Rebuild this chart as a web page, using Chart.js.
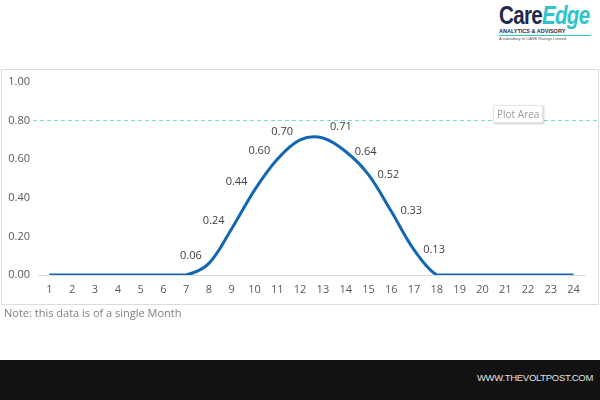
<!DOCTYPE html>
<html>
<head>
<meta charset="utf-8">
<script src="https://cdn.jsdelivr.net/npm/chart.js@4.4.0/dist/chart.umd.min.js"></script>
<style>
  body { margin: 0; width: 600px; height: 400px; background: #fff; position: relative; overflow: hidden; font-family: "Open Sans", sans-serif; }
  .box { position: absolute; left: 1px; top: 69px; width: 596px; height: 234px; border: 1px solid #dcdcdc; }
  canvas { position: absolute; left: 0; top: 0; }
  .note { position: absolute; left: 4px; top: 305px; font-size: 11px; color: #7f7f7f; }
  .footer { position: absolute; left: 0; top: 360px; width: 600px; height: 40px; background: #121212; }
  .footer span { position: absolute; right: 7px; top: 12px; font-family: "Liberation Sans", Arial, sans-serif; font-size: 9.5px; color: #e0e0e0; letter-spacing: -0.3px; }
  .logo { position: absolute; left: 499px; top: 3px; width: 96px; }
  .logo .name { font-family: "Liberation Sans", Arial, sans-serif; font-weight: bold; font-size: 25px; letter-spacing: -0.8px; line-height: 25px; white-space: nowrap; transform: scaleX(0.82); transform-origin: left top; }
  .logo .care { color: #1c2b4f; }
  .logo .edge { color: #2ec4c9; font-style: italic; }
  .logo .sub { font-family: "Liberation Sans", Arial, sans-serif; font-weight: bold; font-size: 5.5px; color: #1c2b4f; line-height: 7px; border-bottom: 1px solid #2ec4c9; width: 92px; }
  .logo .tiny { font-family: "Liberation Sans", Arial, sans-serif; font-size: 4px; color: #555; line-height: 6px; }
  .plotarea { position: absolute; left: 493px; top: 105px; padding: 1px 3px; font-size: 10px; color: #9a9a9a; background: #fff; border: 1px solid #e4e4e4; box-shadow: 1px 1px 2px rgba(0,0,0,0.2); }
</style>
</head>
<body>
<div class="logo">
  <div class="name"><span class="care">Care</span><span class="edge">Edge</span></div>
  <div class="sub">ANALYTICS &amp; ADVISORY</div>
  <div class="tiny">A subsidiary of CARE Ratings Limited</div>
</div>
<div class="box"></div>
<canvas id="curveChart" width="600" height="400"></canvas>
<div class="plotarea">Plot Area</div>
<div class="note">Note: this data is of a single Month</div>
<div class="footer"><span>WWW.THEVOLTPOST.COM</span></div>
<script>
const HOURS = ['1','2','3','4','5','6','7','8','9','10','11','12','13','14','15','16','17','18','19','20','21','22','23','24'];
const VALUES = [0, 0, 0, 0, 0, 0, 0, 0.06, 0.24, 0.44, 0.60, 0.70, 0.71, 0.64, 0.52, 0.33, 0.13, 0, 0, 0, 0, 0, 0, 0];
const Y_TICKS = [0, 0.2, 0.4, 0.6, 0.8, 1.0];
const REF_LINE = 0.8;

// dashed reference line at 0.80, runs to the edge of the box
const refLinePlugin = {
  id: 'refLine',
  beforeDatasetsDraw(chart) {
    const c = chart.ctx;
    const y = chart.scales.y.getPixelForValue(REF_LINE);
    c.save();
    c.strokeStyle = '#6fd8cf';
    c.lineWidth = 1;
    c.setLineDash([4, 3]);
    c.beginPath();
    c.moveTo(33, y);
    c.lineTo(598, y);
    c.stroke();
    c.restore();
  }
};

// value labels, left of the rising side and right of the falling side
const valueLabels = {
  id: 'valueLabels',
  afterDatasetsDraw(chart) {
    const c = chart.ctx;
    const meta = chart.getDatasetMeta(0);
    const peak = VALUES.indexOf(Math.max(...VALUES));
    c.save();
    c.font = '11px "Open Sans", sans-serif';
    c.fillStyle = '#404040';
    c.textAlign = 'center';
    c.textBaseline = 'middle';
    meta.data.forEach((pt, i) => {
      const v = VALUES[i];
      if (!v) return;
      let dx = 20, dy = 0;
      if (i < peak) { dx = -18; dy = -8; }
      else if (i == peak) { dx = 18; dy = -11; }
      c.fillText(v.toFixed(2), pt.x + dx, pt.y + dy);
    });
    c.restore();
  }
};

const ctx = document.getElementById('curveChart');
const curveChart = new Chart(ctx, {
  type: 'line',
  data: {
    labels: HOURS,
    datasets: [{
      data: VALUES,
      borderColor: '#1167b4',
      borderWidth: 3,
      pointRadius: 0,
      tension: 0.33,
      fill: false
    }]
  },
  options: {
    responsive: false,
    animation: false,
    layout: { padding: { left: 0, right: 15, top: 82, bottom: 95 } },
    plugins: { legend: { display: false }, tooltip: { enabled: false } },
    scales: {
      x: {
        offset: true,
        grid: { display: false, drawTicks: false },
        border: { display: true, color: '#d9d9d9', width: 1 },
        ticks: { padding: 8, color: '#595959', font: { family: 'Open Sans', size: 11 }, maxRotation: 0, autoSkip: false },
        afterFit: (scale) => { scale.height = 30; }
      },
      y: {
        min: 0,
        max: 1,
        grid: { display: false, drawTicks: false },
        border: { display: false },
        afterBuildTicks: (scale) => { scale.ticks = Y_TICKS.map(v => ({ value: v })); },
        ticks: { padding: 8, color: '#595959', font: { family: 'Open Sans', size: 11 }, callback: (v) => v.toFixed(2) },
        afterFit: (scale) => { scale.width = 38; }
      }
    }
  },
  plugins: [refLinePlugin, valueLabels]
});
</script>
</body>
</html>
